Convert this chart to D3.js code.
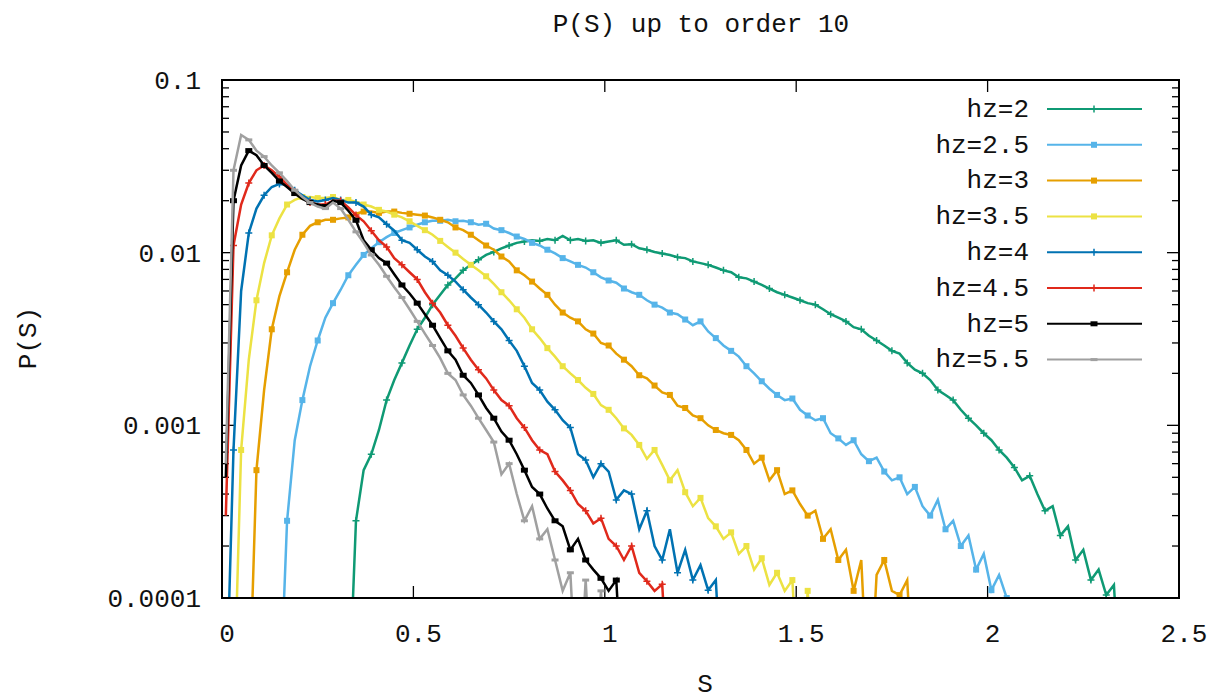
<!DOCTYPE html>
<html>
<head>
<meta charset="utf-8">
<script src="https://cdn.jsdelivr.net/npm/d3@7"></script>
<style>
  html, body { margin: 0; padding: 0; background: #fff; }
  svg text { font-family: "Liberation Mono", "DejaVu Sans Mono", monospace; fill: #111; }
</style>
</head>
<body>
<svg id="chart" width="1212" height="699"></svg>
<script>
// Histogram of S, bins of width 0.02; each series lists P(S) from its first bin centre.
const binWidth = 0.02;
const seriesLabels = ["hz=2", "hz=2.5", "hz=3", "hz=3.5", "hz=4", "hz=4.5", "hz=5", "hz=5.5"];
const seriesColors = ["#0f9a74", "#56b4e9", "#e69f00", "#ece243", "#0072b2", "#e0291b", "#000000", "#a0a0a0"];
const seriesMarkers = ["plus", "square", "square", "square", "plus", "plus", "bar", "dash"];
const firstBin = [0.33, 0.15, 0.07, 0.03, 0.01, 0.01, 0.01, 0.01];

const p_hz2 = [0, 0.00028, 0.00055, 0.00068, 0.00094, 0.0014, 0.00183, 0.0023, 0.0029, 0.0036,
  0.0042, 0.005, 0.0057, 0.0065, 0.0071, 0.0079, 0.0085, 0.0091, 0.0097, 0.0101,
  0.0106, 0.011, 0.0114, 0.0116, 0.0118, 0.0117, 0.012, 0.0118, 0.0125, 0.0118,
  0.012, 0.0117, 0.0118, 0.0114, 0.0116, 0.0118, 0.0111, 0.0112, 0.0106, 0.0104,
  0.0101, 0.0099, 0.0097, 0.0094, 0.0093, 0.0089, 0.0087, 0.0085, 0.0082, 0.0079,
  0.0077, 0.0072, 0.0071, 0.0068, 0.0065, 0.0062, 0.0059, 0.0057, 0.0055, 0.0053,
  0.0051, 0.005, 0.0047, 0.0044, 0.0042, 0.004, 0.0037, 0.0036, 0.0033, 0.0031,
  0.0029, 0.0027, 0.0026, 0.0023, 0.0021, 0.002, 0.00183, 0.0016, 0.0015, 0.0014,
  0.00123, 0.0011, 0.001, 0.0009, 0.00082, 0.00072, 0.00065, 0.00057, 0.00048, 0.00051,
  0.0004, 0.00032, 0.00034, 0.00023, 0.00026, 0.000166, 0.00019, 0.000127, 0.000146, 0.000104,
  0.000119, 0];

const p_hz25 = [0, 0.00028, 0.00082, 0.0014, 0.0022, 0.0031, 0.0042, 0.0051, 0.0061, 0.0074,
  0.0085, 0.0097, 0.0106, 0.0115, 0.0123, 0.013, 0.0135, 0.014, 0.0145, 0.015,
  0.0153, 0.0153, 0.0155, 0.0152, 0.0153, 0.015, 0.0145, 0.0147, 0.0138, 0.0135,
  0.013, 0.0124, 0.012, 0.0114, 0.011, 0.0104, 0.0099, 0.0093, 0.0089, 0.0085,
  0.0082, 0.0077, 0.0072, 0.0069, 0.0067, 0.0062, 0.0059, 0.0057, 0.0053, 0.005,
  0.0048, 0.0045, 0.0044, 0.0041, 0.0038, 0.004, 0.0035, 0.0032, 0.0029, 0.0027,
  0.0025, 0.0022, 0.002, 0.0018, 0.00163, 0.0015, 0.0014, 0.00143, 0.00123, 0.00114,
  0.00107, 0.0011, 0.0009, 0.00084, 0.00077, 0.00082, 0.00068, 0.00062, 0.00065, 0.00054,
  0.00048, 0.0005, 0.0004, 0.00044, 0.00034, 0.0003, 0.00037, 0.00025, 0.00028, 0.0002,
  0.00023, 0.000146, 0.00018, 0.000111, 0.000136, 0.0001, 0];

const p_hz3 = [0, 0.00055, 0.0016, 0.0036, 0.0056, 0.0077, 0.0104, 0.0127, 0.0143, 0.015,
  0.0155, 0.0155, 0.0158, 0.016, 0.0168, 0.0173, 0.0173, 0.017, 0.0173, 0.0173,
  0.017, 0.0168, 0.0166, 0.0164, 0.016, 0.0155, 0.015, 0.014, 0.0135, 0.0127,
  0.0118, 0.011, 0.0104, 0.0095, 0.0089, 0.0079, 0.0074, 0.0068, 0.0062, 0.0057,
  0.005, 0.0045, 0.0042, 0.004, 0.0036, 0.0034, 0.003, 0.0029, 0.0026, 0.0024,
  0.0022, 0.00195, 0.00187, 0.0017, 0.00155, 0.0015, 0.0013, 0.00126, 0.00114, 0.0011,
  0.001, 0.00094, 0.0009, 0.00088, 0.00082, 0.00072, 0.0006, 0.00065, 0.00048, 0.00055,
  0.0004, 0.00042, 0.00035, 0.0003, 0.00032, 0.00022, 0.00025, 0.000166, 0.00019, 0.00011,
  0.000166, 0, 0.000136, 0.000166, 0.00011, 0.000104, 0.000127, 0];

const p_hz35 = [0, 0.00072, 0.0024, 0.0053, 0.0087, 0.0126, 0.0158, 0.019, 0.0202, 0.021,
  0.021, 0.0207, 0.0207, 0.021, 0.0202, 0.0202, 0.0197, 0.019, 0.0185, 0.0177,
  0.0173, 0.0166, 0.016, 0.0152, 0.0143, 0.0135, 0.0127, 0.0117, 0.0108, 0.01,
  0.0092, 0.0085, 0.0079, 0.0073, 0.0066, 0.0059, 0.0053, 0.0047, 0.0042, 0.0036,
  0.0032, 0.0028, 0.0025, 0.0022, 0.002, 0.00183, 0.00165, 0.00152, 0.00131, 0.00123,
  0.0011, 0.00096, 0.00088, 0.00077, 0.00064, 0.00072, 0.00059, 0.00048, 0.00055, 0.00041,
  0.00034, 0.00038, 0.00029, 0.00026, 0.00022, 0.00024, 0.00018, 0.0002, 0.000146, 0.00017,
  0.000119, 0.00014, 0.00011, 0.000127, 0, 0.00011, 0];

const p_hz4 = [0, 0.00072, 0.006, 0.013, 0.018, 0.0215, 0.024, 0.025, 0.0247, 0.023,
  0.0215, 0.0202, 0.0198, 0.0202, 0.0207, 0.0202, 0.0195, 0.0195, 0.0185, 0.0166,
  0.016, 0.0146, 0.0134, 0.0118, 0.0114, 0.0104, 0.0095, 0.0089, 0.0079, 0.0074,
  0.0068, 0.0061, 0.0055, 0.005, 0.0045, 0.004, 0.0036, 0.0031, 0.0027, 0.0022,
  0.00176, 0.0016, 0.00137, 0.00123, 0.00107, 0.00097, 0.00068, 0.00063, 0.0005, 0.0006,
  0.00054, 0.00037, 0.00042, 0.0004, 0.00025, 0.00032, 0.0002, 0.000166, 0.00025, 0.00014,
  0.00019, 0.000127, 0.000155, 0.000111, 0.000127, 0];

const p_hz45 = [0.0003, 0.011, 0.019, 0.0253, 0.03, 0.032, 0.03, 0.0275, 0.0247, 0.0225,
  0.0208, 0.0195, 0.019, 0.019, 0.02, 0.02, 0.0183, 0.0165, 0.0152, 0.0134,
  0.0118, 0.0108, 0.0093, 0.0085, 0.0077, 0.007, 0.0059, 0.0051, 0.0045, 0.0038,
  0.0033, 0.0028, 0.0024, 0.0021, 0.00187, 0.0016, 0.0014, 0.0013, 0.0011, 0.00097,
  0.00082, 0.00072, 0.00068, 0.00054, 0.00048, 0.00042, 0.00035, 0.00032, 0.00027, 0.00029,
  0.00022, 0.0002, 0.000166, 0.0002, 0.00014, 0.000125, 0.00011, 0.00012, 0];

const p_hz5 = [0.0005, 0.02, 0.032, 0.039, 0.0367, 0.032, 0.029, 0.026, 0.024, 0.022,
  0.0205, 0.0195, 0.019, 0.0185, 0.02, 0.0195, 0.0175, 0.0154, 0.0118, 0.0104,
  0.0093, 0.0087, 0.0075, 0.0065, 0.0058, 0.0051, 0.0044, 0.0038, 0.0032, 0.0027,
  0.0024, 0.00195, 0.00176, 0.0015, 0.00126, 0.0011, 0.00092, 0.00082, 0.00068, 0.00055,
  0.00044, 0.0004, 0.00033, 0.00028, 0.00026, 0.00019, 0.00022, 0.000166, 0.000146, 0.00013,
  0.00011, 0.000127, 0];

const p_hz55 = [0.0006, 0.03, 0.048, 0.045, 0.039, 0.036, 0.032, 0.029, 0.026, 0.023,
  0.021, 0.0195, 0.0185, 0.018, 0.0195, 0.018, 0.0155, 0.0132, 0.0114, 0.0097,
  0.0085, 0.0073, 0.0063, 0.0055, 0.0047, 0.004, 0.0034, 0.0029, 0.00245, 0.002,
  0.00183, 0.0015, 0.0013, 0.0011, 0.00094, 0.0008, 0.00052, 0.0006, 0.0004, 0.00028,
  0.00034, 0.00022, 0.00025, 0.000166, 0.00011, 0.00014, 0, 0.000127, 0, 0.00011, 0];

const seriesValues = [p_hz2, p_hz25, p_hz3, p_hz35, p_hz4, p_hz45, p_hz5, p_hz55];

const xTicks = [0, 0.5, 1, 1.5, 2, 2.5];
const xTickLabels = ["0", "0.5", "1", "1.5", "2", "2.5"];
const yTicks = [0.0001, 0.001, 0.01, 0.1];
const yTickLabels = ["0.0001", "0.001", "0.01", "0.1"];

const svg = d3.select("#chart");
const plotLeft = 222, plotRight = 1179, plotTop = 80, plotBottom = 598;

const x = d3.scaleLinear().domain([0, 2.5]).range([plotLeft, plotRight]);
const y = d3.scaleLog().domain([0.0001, 0.1]).range([plotBottom, plotTop]);
const floorValue = 0.00002; // empty bins fall below the axis

svg.append("defs").append("clipPath").attr("id", "plotArea")
  .append("rect").attr("x", plotLeft).attr("y", plotTop)
  .attr("width", plotRight - plotLeft).attr("height", plotBottom - plotTop);

// minor and major ticks on all four sides
const tickG = svg.append("g").attr("stroke", "#000").attr("stroke-width", 1.3);
const minorY = [];
[0.0001, 0.001, 0.01].forEach(d => { for (let k = 2; k <= 9; k++) minorY.push(d * k); });
minorY.forEach(v => {
  tickG.append("line").attr("x1", plotLeft).attr("x2", plotLeft + 7).attr("y1", y(v)).attr("y2", y(v));
  tickG.append("line").attr("x1", plotRight).attr("x2", plotRight - 7).attr("y1", y(v)).attr("y2", y(v));
});
yTicks.forEach(v => {
  tickG.append("line").attr("x1", plotLeft).attr("x2", plotLeft + 12).attr("y1", y(v)).attr("y2", y(v));
  tickG.append("line").attr("x1", plotRight).attr("x2", plotRight - 12).attr("y1", y(v)).attr("y2", y(v));
});
xTicks.forEach(v => {
  tickG.append("line").attr("x1", x(v)).attr("x2", x(v)).attr("y1", plotBottom).attr("y2", plotBottom - 12);
  tickG.append("line").attr("x1", x(v)).attr("x2", x(v)).attr("y1", plotTop).attr("y2", plotTop + 12);
});

// tick labels
svg.append("g").selectAll("text").data(yTicks).join("text")
  .attr("x", 201).attr("y", d => y(d)).attr("dy", "0.35em")
  .attr("text-anchor", "end").attr("font-size", 26)
  .text((d, i) => yTickLabels[i]);
svg.append("g").selectAll("text").data(xTicks).join("text")
  .attr("x", d => x(d) + 5).attr("y", 633).attr("dy", "0.35em")
  .attr("text-anchor", "middle").attr("font-size", 26)
  .text((d, i) => xTickLabels[i]);

// title and axis labels
svg.append("text").attr("x", 701).attr("y", 23).attr("dy", "0.35em")
  .attr("text-anchor", "middle").attr("font-size", 26).text("P(S) up to order 10");
svg.append("text").attr("x", 705).attr("y", 683).attr("dy", "0.35em")
  .attr("text-anchor", "middle").attr("font-size", 26).text("S");
svg.append("text").attr("transform", "translate(27,338) rotate(-90)").attr("dy", "0.35em")
  .attr("text-anchor", "middle").attr("font-size", 26).text("P(S)");

// marker shapes
function drawMarker(g, kind, cx, cy, color) {
  if (kind === "plus") {
    g.append("path").attr("d", `M${cx - 3.5},${cy}H${cx + 3.5}M${cx},${cy - 3.5}V${cy + 3.5}`)
      .attr("stroke", color).attr("stroke-width", 1.5);
  } else if (kind === "square") {
    g.append("rect").attr("x", cx - 3).attr("y", cy - 3).attr("width", 6).attr("height", 6)
      .attr("fill", color);
  } else if (kind === "bar") {
    g.append("rect").attr("x", cx - 3.5).attr("y", cy - 2.5).attr("width", 7).attr("height", 5)
      .attr("fill", color);
  } else {
    g.append("rect").attr("x", cx - 3.5).attr("y", cy - 1.5).attr("width", 7).attr("height", 3)
      .attr("fill", color);
  }
}

// curves
const line = d3.line()
  .x(d => x(d.s))
  .y(d => y(d.p > 0 ? d.p : floorValue));

const plotG = svg.append("g").attr("clip-path", "url(#plotArea)");
seriesValues.forEach((vals, i) => {
  const pts = vals.map((p, k) => ({ s: firstBin[i] + k * binWidth, p }));
  plotG.append("path").datum(pts)
    .attr("d", line)
    .attr("fill", "none")
    .attr("stroke", seriesColors[i])
    .attr("stroke-width", 2.5)
    .attr("stroke-linejoin", "miter");
  const mg = plotG.append("g");
  pts.forEach((d, k) => {
    if (d.p > 0 && k % 2 === 1) drawMarker(mg, seriesMarkers[i], x(d.s), y(d.p), seriesColors[i]);
  });
});

// legend
const legend = svg.append("g");
seriesLabels.forEach((lab, i) => {
  const ly = 109 + i * 35.8;
  legend.append("text").attr("x", 1029).attr("y", ly).attr("dy", "0.3em")
    .attr("text-anchor", "end").attr("font-size", 26).text(lab);
  legend.append("line").attr("x1", 1047).attr("x2", 1142).attr("y1", ly).attr("y2", ly)
    .attr("stroke", seriesColors[i]).attr("stroke-width", 2);
  drawMarker(legend, seriesMarkers[i], 1094, ly, seriesColors[i]);
});

// frame
svg.append("rect").attr("x", plotLeft).attr("y", plotTop)
  .attr("width", plotRight - plotLeft).attr("height", plotBottom - plotTop)
  .attr("fill", "none").attr("stroke", "#000").attr("stroke-width", 2);
</script>
</body>
</html>
